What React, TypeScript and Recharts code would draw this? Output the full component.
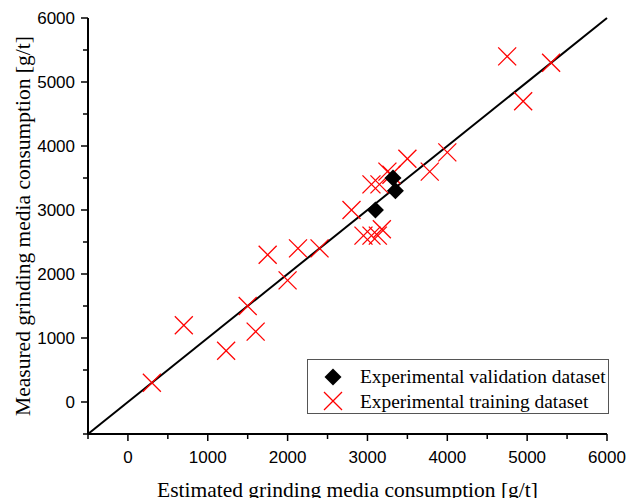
import { ScatterChart, Scatter, XAxis, YAxis, ReferenceLine, Legend } from "recharts";

// valeurs (g/t)
const validationEstimated = [3100, 3350, 3320];
const validationMeasured = [3000, 3300, 3500];

const trainingEstimated = [
  300, 700, 1230, 1600, 1500, 2000, 1750, 2130, 2400, 2800, 2950, 3050, 3130, 3180,
  3050, 3150, 3250, 3300, 3500, 3780, 4000, 4950, 4750, 5300,
];
const trainingMeasured = [
  300, 1200, 800, 1100, 1500, 1900, 2300, 2400, 2400, 3000, 2600, 2600, 2600, 2700,
  3400, 3400, 3600, 3550, 3800, 3600, 3900, 4700, 5400, 5300,
];

const ticks = [-500, 0, 500, 1000, 1500, 2000, 2500, 3000, 3500, 4000, 4500, 5000, 5500, 6000];
const lineStart = -500;
const lineEnd = 6000;

const validation = validationEstimated.map((x, i) => ({ x, y: validationMeasured[i] }));
const training = trainingEstimated.map((x, i) => ({ x, y: trainingMeasured[i] }));

const tickFont = "'Liberation Sans', Arial, sans-serif";
const labelFont = "'Liberation Serif', 'Times New Roman', serif";

// croix rouge
const Cross = (props: any) => {
  const { cx, cy } = props;
  const s = 9;
  return (
    <g stroke="#ff0000" strokeWidth={1.3}>
      <line x1={cx - s} y1={cy - s} x2={cx + s} y2={cy + s} />
      <line x1={cx - s} y1={cy + s} x2={cx + s} y2={cy - s} />
    </g>
  );
};

// losange noir
const Diamond = (props: any) => {
  const { cx, cy } = props;
  const s = 8.5;
  return <path d={`M${cx},${cy - s}L${cx + s},${cy}L${cx},${cy + s}L${cx - s},${cy}Z`} fill="#000" />;
};

const XTick = (props: any) => {
  const { x, y, payload } = props;
  const major = payload.value % 1000 === 0;
  return (
    <g>
      <line x1={x} y1={y} x2={x} y2={y + (major ? 7 : 5)} stroke="#000" strokeWidth={1.5} />
      {major && (
        <text x={x} y={y + 29} textAnchor="middle" fontSize={17} fontFamily={tickFont} fill="#000">
          {payload.value}
        </text>
      )}
    </g>
  );
};

const YTick = (props: any) => {
  const { x, y, payload } = props;
  const major = payload.value % 1000 === 0;
  return (
    <g>
      <line x1={x} y1={y} x2={x - (major ? 7 : 5)} y2={y} stroke="#000" strokeWidth={1.5} />
      {major && (
        <text x={x - 13} y={y + 6} textAnchor="end" fontSize={17} fontFamily={tickFont} fill="#000">
          {payload.value}
        </text>
      )}
    </g>
  );
};

const LegendBox = () => (
  <svg width={302} height={55} style={{ display: "block" }}>
    <rect x={0.5} y={0.5} width={301} height={54} fill="#fff" stroke="#555" />
    <Diamond cx={26} cy={18} />
    <text x={53} y={24} fontSize={19.4} fontFamily={labelFont} fill="#000">
      Experimental validation dataset
    </text>
    <Cross cx={26} cy={42} />
    <text x={53} y={49} fontSize={19.4} fontFamily={labelFont} fill="#000">
      Experimental training dataset
    </text>
  </svg>
);

export default function App() {
  return (
    <div style={{ position: "absolute", left: 0, top: 0, background: "#fff" }}>
      <ScatterChart width={628} height={498} margin={{ top: 18, right: 21, bottom: 0, left: 0 }}>
        <XAxis
          type="number"
          dataKey="x"
          domain={[-500, 6000]}
          ticks={ticks}
          interval={0}
          tick={<XTick />}
          tickLine={false}
          tickSize={0}
          tickMargin={0}
          axisLine={{ stroke: "#000", strokeWidth: 2 }}
          height={64}
          allowDataOverflow
          label={{
            value: "Estimated grinding media consumption [g/t]",
            position: "insideBottom",
            offset: 1,
            fontSize: 21.5,
            fontFamily: labelFont,
            fill: "#000",
          }}
        />
        <YAxis
          type="number"
          dataKey="y"
          domain={[-500, 6000]}
          ticks={ticks}
          interval={0}
          tick={<YTick />}
          tickLine={false}
          tickSize={0}
          tickMargin={0}
          axisLine={{ stroke: "#000", strokeWidth: 2 }}
          width={88}
          allowDataOverflow
          label={{
            value: "Measured grinding media consumption [g/t]",
            angle: -90,
            position: "insideLeft",
            offset: 22,
            style: { textAnchor: "middle" },
            fontSize: 21.5,
            fontFamily: labelFont,
            fill: "#000",
          }}
        />
        <ReferenceLine
          segment={[
            { x: lineStart, y: lineStart },
            { x: lineEnd, y: lineEnd },
          ]}
          stroke="#000"
          strokeWidth={2}
        />
        <Scatter name="Experimental training dataset" data={training} shape={<Cross />} isAnimationActive={false} />
        <Scatter name="Experimental validation dataset" data={validation} shape={<Diamond />} isAnimationActive={false} />
        <Legend
          layout="horizontal"
          verticalAlign="middle"
          align="center"
          wrapperStyle={{ left: 307, top: 359, width: 302 }}
          content={() => <LegendBox />}
        />
      </ScatterChart>
    </div>
  );
}
